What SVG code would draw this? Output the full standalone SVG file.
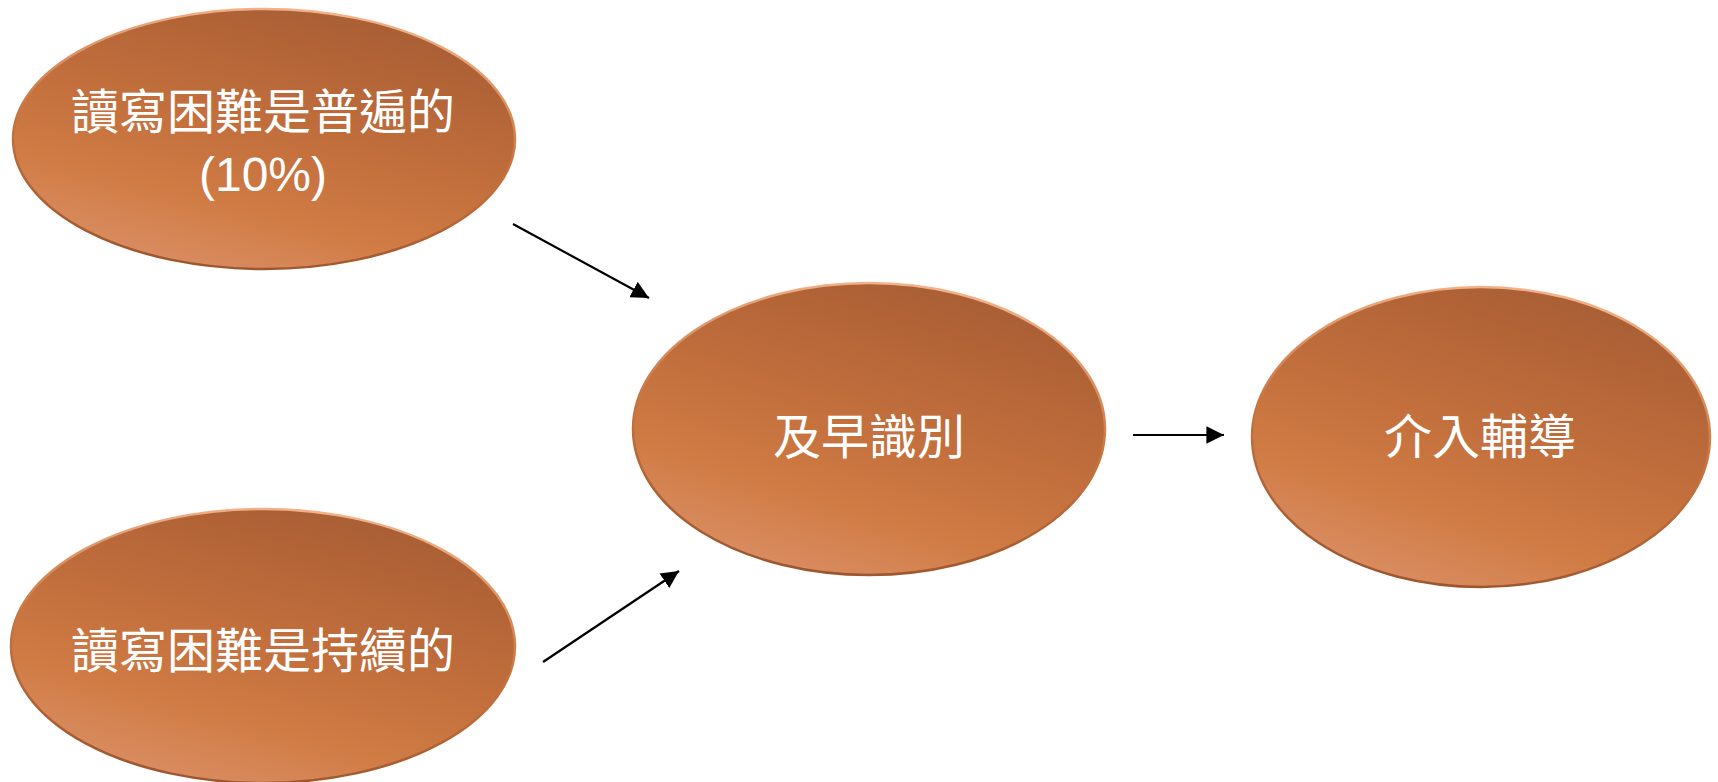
<svg xmlns="http://www.w3.org/2000/svg" width="1718" height="782" viewBox="0 0 1718 782">
<defs>
<linearGradient id="fillG" x1="0.8" y1="0" x2="0.3" y2="1">
<stop offset="0" stop-color="#a65c33"/>
<stop offset="0.45" stop-color="#c06d3c"/>
<stop offset="0.75" stop-color="#d07b44"/>
<stop offset="1" stop-color="#da8e64"/>
</linearGradient>
<linearGradient id="rimG" x1="0.6" y1="0" x2="0.4" y2="1">
<stop offset="0" stop-color="#f2b38c"/>
<stop offset="0.5" stop-color="#c7753f"/>
<stop offset="1" stop-color="#9c552d"/>
</linearGradient>
<marker id="arrh" viewBox="0 0 10 10" refX="10" refY="5" markerWidth="8" markerHeight="8" orient="auto">
<path d="M0,0 L10,5 L0,10 z" fill="#000"/>
</marker>
</defs>
<style>
.node ellipse { fill: url(#fillG); stroke: url(#rimG); stroke-width: 2.5; }
.lbl { font-family: "Liberation Sans", "Noto Sans CJK TC", sans-serif; font-size: 48px; fill: #ffffff; text-anchor: middle; }
.conn line { stroke: #000; stroke-width: 2.2; marker-end: url(#arrh); }
</style>
<rect width="1718" height="782" fill="#ffffff"/>
<g id="node-common" class="node">
<ellipse cx="264" cy="139" rx="251" ry="130"/>
<text class="lbl" x="263" y="129">讀寫困難是普遍的</text>
<text class="lbl" x="263" y="191">(10%)</text>
</g>
<g id="node-persistent" class="node">
<ellipse cx="263" cy="646" rx="252" ry="137"/>
<text class="lbl" x="263" y="668">讀寫困難是持續的</text>
</g>
<g id="node-early" class="node">
<ellipse cx="869" cy="429" rx="236" ry="146"/>
<text class="lbl" x="869" y="454">及早識別</text>
</g>
<g id="node-intervene" class="node">
<ellipse cx="1481" cy="437" rx="229" ry="150"/>
<text class="lbl" x="1480" y="454">介入輔導</text>
</g>
<g id="connectors" class="conn">
<line x1="513" y1="224" x2="649" y2="298"/>
<line x1="543" y1="662" x2="679" y2="571"/>
<line x1="1133" y1="435" x2="1224" y2="435"/>
</g>
</svg>
